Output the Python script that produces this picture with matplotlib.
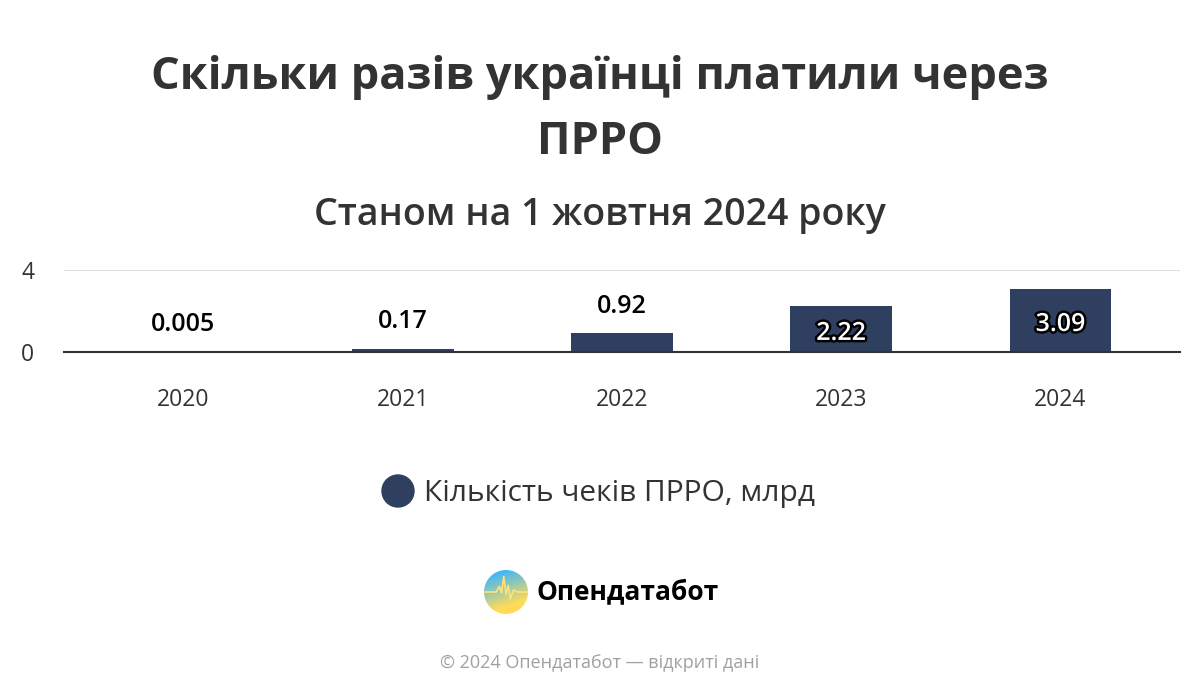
import numpy as np
import matplotlib.pyplot as plt
import matplotlib.patheffects as pe
from matplotlib.patches import Circle

years = ['2020', '2021', '2022', '2023', '2024']
values = [0.005, 0.17, 0.92, 2.22, 3.09]
labels = ['0.005', '0.17', '0.92', '2.22', '3.09']
series_name = 'Кількість чеків ПРРО, млрд'

bar_color = '#2e3f5f'
text_color = '#333333'

plt.rcParams['font.family'] = ['Open Sans', 'DejaVu Sans']

fig = plt.figure(figsize=(12, 7), dpi=100)
fig.patch.set_facecolor('white')

fig.text(0.5, 1 - 77/700, 'Скільки разів українці платили через', ha='center', va='center',
         fontsize=32.5, fontweight='bold', color=text_color)
fig.text(0.5, 1 - 143/700, 'ПРРО', ha='center', va='center',
         fontsize=32.5, fontweight='bold', color=text_color)
fig.text(0.5, 1 - 215/700, 'Станом на 1 жовтня 2024 року', ha='center', va='center',
         fontsize=27, fontweight='semibold', color=text_color)

ax = fig.add_axes([64/1200, 1 - 352/700, (1180 - 64)/1200, 82/700])
x = np.arange(len(years))
bars = ax.bar(x, values, width=0.465, color=bar_color, zorder=3)
ax.set_xlim(-0.545, len(years) - 1 + 0.545)
ax.set_ylim(0, 4)
ax.set_yticks([0, 4])
ax.set_xticks(x)
ax.set_xticklabels(years)
ax.tick_params(axis='both', length=0, colors=text_color, labelsize=16.5)
ax.tick_params(axis='x', pad=26)
ax.tick_params(axis='y', pad=26)
for lab in ax.get_yticklabels():
    lab.set_horizontalalignment('center')
ax.grid(axis='y', color='#dedede', linewidth=1.5, zorder=0)
for s in ['top', 'right', 'left']:
    ax.spines[s].set_visible(False)
ax.spines['bottom'].set_color('#333333')
ax.spines['bottom'].set_linewidth(1.5)
ax.spines['bottom'].set_zorder(4)

for xi, v, lab in zip(x, values, labels):
    if v < 1.5:
        ax.annotate(lab, (xi, v), xytext=(0, 19.5), textcoords='offset points',
                    ha='center', va='center', fontsize=18, fontweight='semibold', color='black')
    else:
        t = ax.annotate(lab, (xi, v / 2), xytext=(0, -3), textcoords='offset points',
                        ha='center', va='center', fontsize=18, fontweight='semibold',
                        color='white', zorder=5)
        t.set_path_effects([pe.Stroke(linewidth=3.5, foreground='black'), pe.Normal()])

# legend
dot = Circle((398/100, 7 - 491/100), 0.16, transform=fig.dpi_scale_trans,
             color=bar_color)
fig.patches.append(dot)
fig.text(424/1200, 1 - 493/700, series_name, ha='left', va='center',
         fontsize=21.5, color=text_color)

# logo
lax = fig.add_axes([484/1200, 1 - 614/700, 44/1200, 44/700])
lax.set_aspect('equal')
yy, xx = np.mgrid[0:1:100j, 0:1:100j]
img = np.zeros((100, 100, 3))
top = np.array([0.25, 0.72, 0.98])
bot = np.array([1.0, 0.86, 0.35])
w = np.clip((yy * 1.2 + xx * 0.4 - 0.2), 0, 1)
for i in range(3):
    img[:, :, i] = top[i] * (1 - w) + bot[i] * w
im = lax.imshow(img, extent=(-1, 1, -1, 1), origin='upper')
clip = Circle((0, 0), 1, transform=lax.transData)
im.set_clip_path(clip)
sx = [-1, -0.45, -0.3, -0.2, -0.1, 0.0, 0.1, 0.2, 0.35, 0.5, 1]
sy = [0.0, 0.0, 0.25, -0.05, 0.7, -0.1, 0.3, -0.3, 0.1, 0.0, 0.0]
ln, = lax.plot(sx, sy, color='#ffe27a', lw=1.2)
ln.set_clip_path(clip)
lax.set_xlim(-1, 1)
lax.set_ylim(-1, 1)
lax.axis('off')
fig.text(536/1200, 1 - 592/700, 'Опендатабот', ha='left', va='center',
         fontsize=19, fontweight='bold', color='black')

fig.text(0.5, 1 - 663/700, '© 2024 Опендатабот — відкриті дані', ha='center', va='center',
         fontsize=13, color='#a0a0a0')

fig.savefig('out.png', dpi=100, facecolor='white')
